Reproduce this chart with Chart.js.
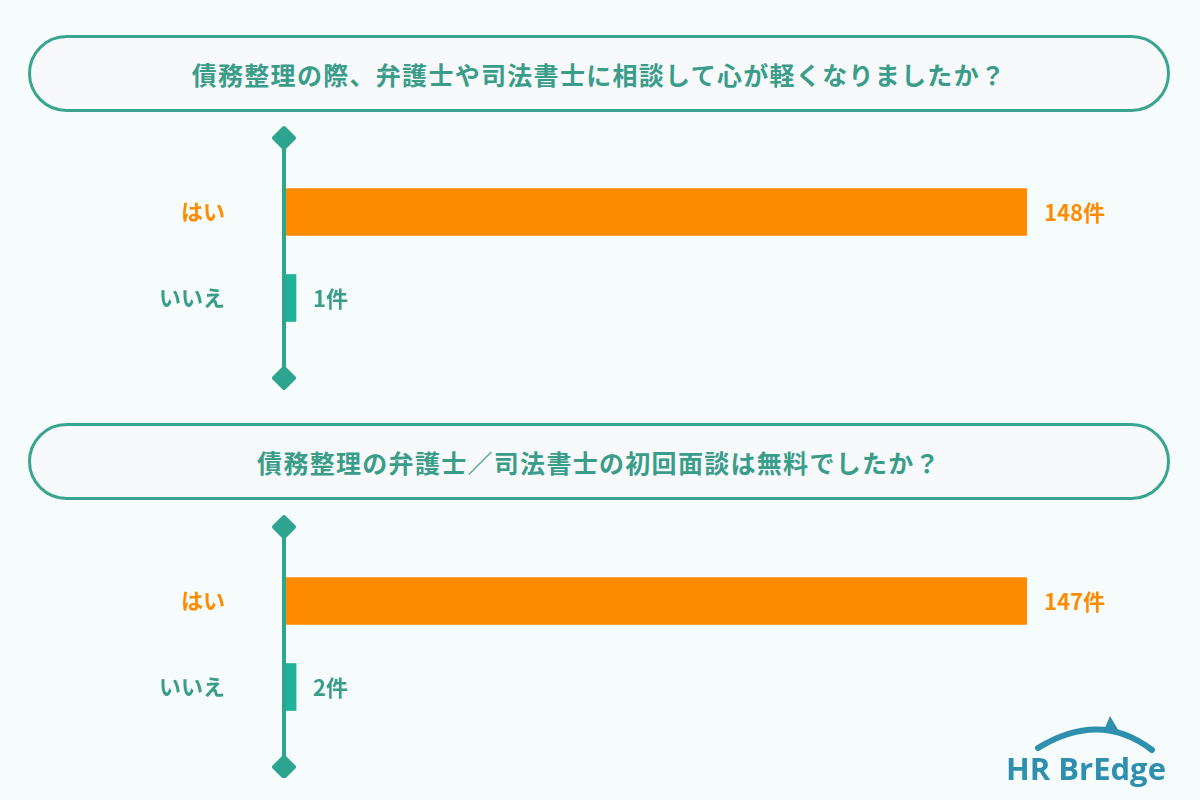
<!DOCTYPE html>
<html lang="ja">
<head>
<meta charset="utf-8">
<script src="https://cdn.jsdelivr.net/npm/chart.js@4"></script>
<style>
    body { margin: 0; background: #f6fcfb; font-family: "Noto Sans CJK JP", sans-serif; }
    #page { position: relative; width: 1200px; height: 800px; overflow: hidden; }
    .title {
        position: absolute; left: 28px; width: 1136px; height: 71px;
        border: 3px solid #39a58f; border-radius: 40px; background: #f8f9fb;
        display: flex; align-items: center; justify-content: center;
        color: #3a9d8a; font-weight: 700; font-size: 25px; letter-spacing: 1.3px;
    }
    .box { position: absolute; left: 0; width: 1200px; height: 270px; }
    #logo { position: absolute; left: 1000px; top: 700px; width: 190px; height: 95px; }
</style>
</head>
<body>
<div id="page">
    <div class="title" style="top:35px">債務整理の際、弁護士や司法書士に相談して心が軽くなりましたか？</div>
    <div class="box" style="top:120px"><canvas id="chart1"></canvas></div>
    <div class="title" style="top:423px">債務整理の弁護士／司法書士の初回面談は無料でしたか？</div>
    <div class="box" style="top:508px"><canvas id="chart2"></canvas></div>
    <svg id="logo" viewBox="0 0 190 95">
        <path d="M38 48 Q100 10 152 50" fill="none" stroke="#2f8fae" stroke-width="6" stroke-linecap="round"/>
        <polygon points="104,30 110,16 120,33" fill="#2f8fae"/>
        <text x="6" y="80" font-family="Open Sans, sans-serif" font-weight="700" font-size="31" fill="#2f8fae">HR BrEdge</text>
    </svg>
</div>
<script>
// Data
const categories = ['はい', 'いいえ'];
const q1Values = [148, 1];
const q2Values = [147, 2];
const unit = '件';

const ORANGE = '#ff8b00';
const TEAL = '#20b29b';
const TEAL_TEXT = '#3a9d8a';
const barColors = [ORANGE, TEAL];
const labelColors = [ORANGE, TEAL_TEXT];
const FONT = '"Noto Sans CJK JP", sans-serif';

// vertical axis with diamonds on both ends
const axisLinePlugin = {
    id: 'axisLine',
    afterDatasetsDraw(chart) {
        const ctx = chart.ctx;
        const area = chart.chartArea;
        const x = chart.scales.x.getPixelForValue(0) - 2;
        const top = area.top - 31;
        const bottom = area.bottom + 37;
        ctx.save();
        ctx.strokeStyle = '#2ea58f';
        ctx.fillStyle = '#2ea58f';
        ctx.lineWidth = 4;
        ctx.beginPath();
        ctx.moveTo(x, top);
        ctx.lineTo(x, bottom);
        ctx.stroke();
        [top, bottom].forEach(y => {
            ctx.beginPath();
            ctx.moveTo(x, y - 10);
            ctx.lineTo(x + 10, y);
            ctx.lineTo(x, y + 10);
            ctx.lineTo(x - 10, y);
            ctx.closePath();
            ctx.lineJoin = 'round';
            ctx.fill();
            ctx.stroke();
        });
        ctx.restore();
    }
};

// value labels at the end of each bar
const valueLabelPlugin = {
    id: 'valueLabels',
    afterDatasetsDraw(chart) {
        const ctx = chart.ctx;
        const meta = chart.getDatasetMeta(0);
        const values = chart.data.datasets[0].data;
        ctx.save();
        ctx.font = 'bold 22px ' + FONT;
        ctx.textBaseline = 'middle';
        ctx.textAlign = 'left';
        meta.data.forEach((bar, i) => {
            ctx.fillStyle = labelColors[i];
            ctx.fillText(values[i] + unit, bar.x + 17, bar.y + 1);
        });
        ctx.restore();
    }
};

const makeChart = (id, values, padTop, padBottom) => {
    const ctx = document.getElementById(id).getContext('2d');
    return new Chart(ctx, {
        type: 'bar',
        data: {
            labels: categories,
            datasets: [{
                data: values,
                backgroundColor: barColors,
                barThickness: 47,
                minBarLength: 10,
                borderWidth: 0
            }]
        },
        options: {
            indexAxis: 'y',
            responsive: true,
            maintainAspectRatio: false,
            animation: false,
            layout: { padding: { top: padTop, bottom: padBottom, left: 0, right: 173 } },
            plugins: { legend: { display: false }, tooltip: { enabled: false } },
            scales: {
                x: { display: false, min: 0, max: Math.max(...values) },
                y: {
                    afterFit: scale => {
                        scale.width = 286;
                        scale.paddingTop = 0;
                        scale.paddingBottom = 0;
                    },
                    grid: { display: false, drawTicks: false },
                    border: { display: false },
                    ticks: {
                        padding: 61,
                        color: c => labelColors[c.index],
                        font: { family: FONT, size: 22, weight: 'bold' }
                    }
                }
            }
        },
        plugins: [axisLinePlugin, valueLabelPlugin]
    });
};

makeChart('chart1', q1Values, 49, 49);
makeChart('chart2', q2Values, 50, 48);
</script>
</body>
</html>
